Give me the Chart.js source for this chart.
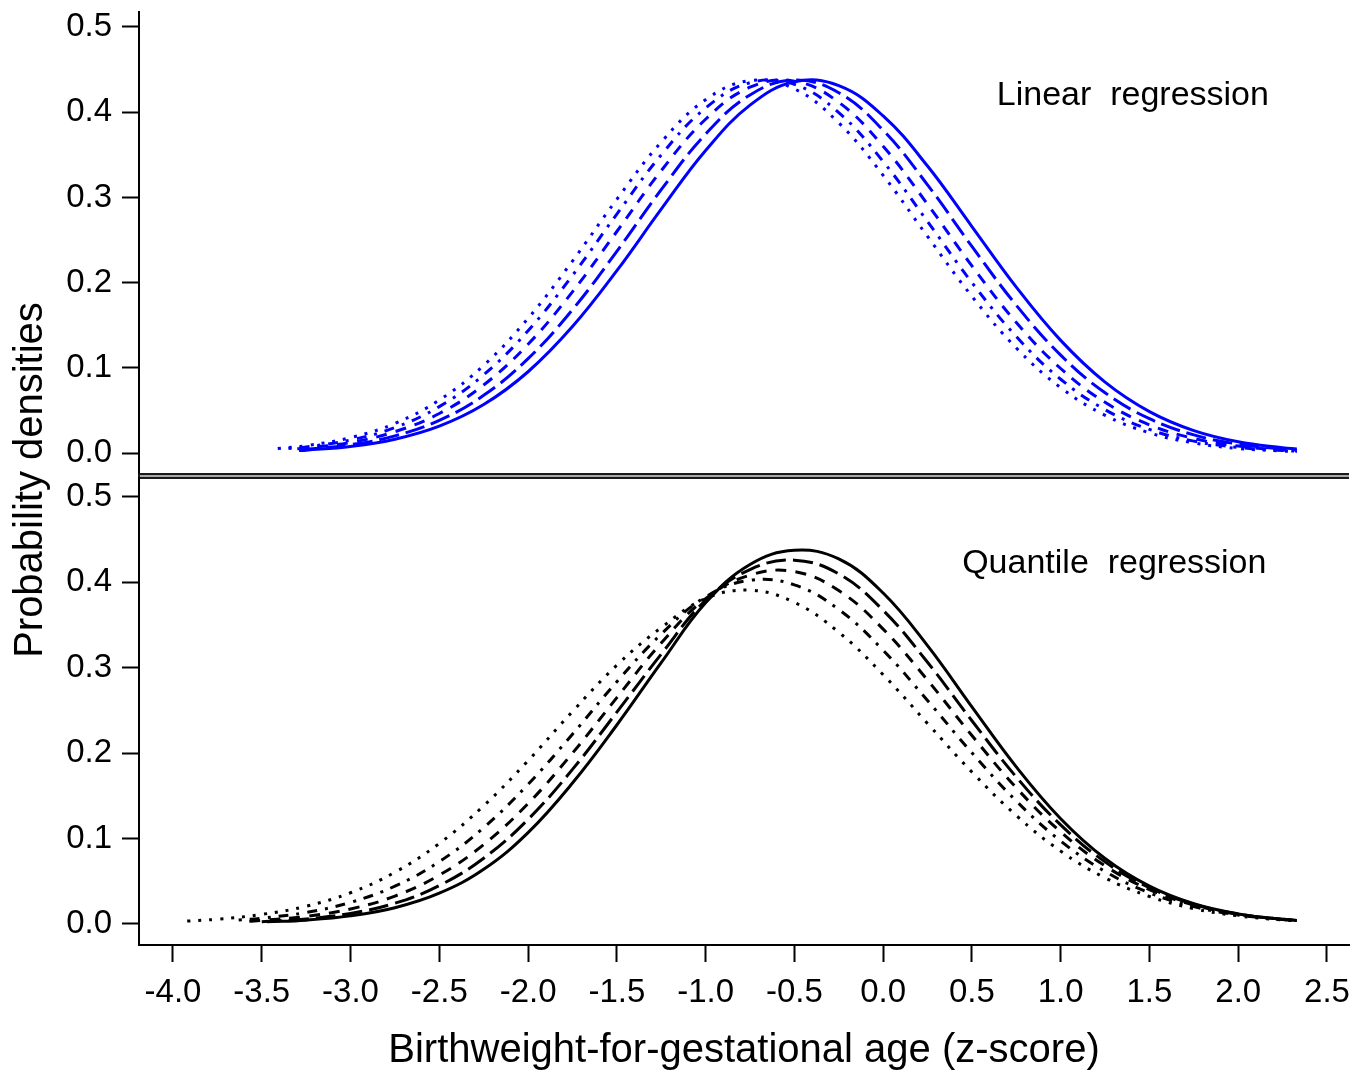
<!DOCTYPE html>
<html>
<head>
<meta charset="utf-8">
<script src="https://cdn.jsdelivr.net/npm/chart.js@4.4.1/dist/chart.umd.min.js"></script>
<style>
  html, body { margin: 0; padding: 0; background: #fff; }
  #wrap { position: relative; width: 1366px; height: 1075px; }
  #wrap canvas { position: absolute; left: 0; top: 0; }
</style>
</head>
<body>
<div id="wrap">
  <canvas id="topChart" width="1366" height="1075"></canvas>
  <canvas id="bottomChart" width="1366" height="1075"></canvas>
</div>
<script>
// z-score grid the densities were read at
var zGridTop = [-3.25, -3.0, -2.75, -2.5, -2.25, -2.0, -1.75, -1.5, -1.25, -1.0, -0.75, -0.5, -0.25,
  0.0, 0.25, 0.5, 0.75, 1.0, 1.25, 1.5, 1.75, 2.0, 2.25, 2.33];
var zGridBottom = [-3.75, -3.5, -3.25, -3.0, -2.75, -2.5, -2.25, -2.0, -1.75, -1.5, -1.25, -1.0, -0.75, -0.5, -0.25,
  0.0, 0.25, 0.5, 0.75, 1.0, 1.25, 1.5, 1.75, 2.0, 2.25, 2.33];

// linear regression (top) - first value is at the curve's start point
var startsTop = [-3.29, -3.29, -3.30, -3.35, -3.41];
var linSolid    = [.0030, .0034, .0077, .0162, .0315, .0569, .0954, .1484, .2140, .2862, .3550, .4083, .4357, .4311, .3956, .3368, .2658, .1947, .1322, .0832, .0486, .0263, .0132, .0062, .0048];
var linLongdash = [.0039, .0044, .0098, .0202, .0384, .0677, .1108, .1682, .2368, .3091, .3743, .4203, .4378, .4229, .3788, .3148, .2425, .1734, .1149, .0707, .0403, .0213, .0105, .0048, .0036];
var linDashed   = [.0049, .0058, .0125, .0250, .0464, .0799, .1277, .1892, .2600, .3314, .3917, .4293, .4365, .4116, .3600, .2920, .2196, .1532, .0992, .0595, .0331, .0171, .0082, .0036, .0028];
var linDotdash  = [.0052, .0072, .0153, .0299, .0545, .0918, .1436, .2084, .2804, .3499, .4049, .4346, .4327, .3995, .3421, .2717, .2001, .1367, .0866, .0509, .0277, .0140, .0066, .0029, .0022];
var linDotted   = [.0052, .0087, .0181, .0348, .0622, .1029, .1581, .2253, .2978, .3649, .4147, .4371, .4274, .3875, .3259, .2542, .1839, .1233, .0767, .0443, .0237, .0118, .0054, .0023, .0017];

// quantile regression (bottom)
var startsBottom = [-3.47, -3.50, -3.57, -3.63, -3.92];
var qrSolid    = [.0025, .0045, .0095, .0190, .0360, .0640, .1070, .1650, .2330, .3060, .3760, .4210, .4375, .4274, .3875, .3259, .2542, .1839, .1233, .0767, .0443, .0237, .0118, .0054, .0042];
var qrLongdash = [.0026, .0059, .0124, .0243, .0450, .0770, .1225, .1810, .2480, .3160, .3790, .4150, .4260, .4099, .3673, .3064, .2380, .1721, .1160, .0727, .0425, .0231, .0117, .0055, .0043];
var qrDashed   = [.0033, .0042, .0089, .0176, .0327, .0572, .0930, .1410, .2000, .2650, .3290, .3810, .4085, .4126, .3904, .3453, .2855, .2207, .1595, .1078, .0681, .0402, .0222, .0114, .0055, .0043];
var qrDotdash  = [.0046, .0068, .0135, .0253, .0443, .0730, .1128, .1635, .2222, .2836, .3394, .3830, .4025, .3971, .3683, .3205, .2617, .2004, .1440, .0971, .0615, .0365, .0203, .0106, .0052, .0041];
var qrDotted   = [.0034, .0056, .0112, .0208, .0366, .0606, .0943, .1384, .1912, .2488, .3030, .3470, .3810, .3908, .3765, .3416, .2919, .2348, .1779, .1270, .0853, .0540, .0322, .0180, .0095, .0047, .0037];

var xTicks = [-4.0, -3.5, -3.0, -2.5, -2.0, -1.5, -1.0, -0.5, 0.0, 0.5, 1.0, 1.5, 2.0, 2.5];
var yTicks = [0.0, 0.1, 0.2, 0.3, 0.4, 0.5];

// solid, long dash, dash, dot-dash, dotted
var dashes = [[], [20, 7], [11, 9], [3, 8, 10, 8], [3, 8]];
var FONT = '"Liberation Sans", Arial, sans-serif';

Chart.defaults.font.family = FONT;
Chart.defaults.color = '#000';

function curve(grid, start, vals) {
  var pts = [{x: start, y: vals[0]}];
  var k = 1;
  grid.forEach(function(z) {
    if (z > start) { pts.push({x: z, y: vals[k]}); k++; }
  });
  return pts;
}

function makeSets(grid, starts, series, color) {
  return series.map(function(vals, i) {
    return {
      label: 'curve ' + (i + 1),
      data: curve(grid, starts[i], vals),
      borderColor: color,
      borderWidth: 3,
      borderDash: dashes[i],
      pointRadius: 0,
      fill: false,
      tension: 0.4
    };
  });
}

function yAxis(min, max) {
  return {
    type: 'linear', min: min, max: max,
    afterBuildTicks: function(s) { s.ticks = yTicks.map(function(v) { return {value: v}; }); },
    afterFit: function(s) { s.width = 139; s.paddingTop = 0; s.paddingBottom = 0; },
    ticks: { padding: 10, font: {size: 33}, color: '#000', callback: function(v) { return v.toFixed(1); } },
    grid: { drawOnChartArea: false, drawTicks: true, tickLength: 17, tickWidth: 2, tickColor: '#000' },
    border: { display: true, color: '#000', width: 2 }
  };
}

var decor = {
  id: 'decor',
  afterDraw: function(chart, args, opts) {
    var ctx = chart.ctx, area = chart.chartArea;
    var xs = chart.scales.x, ys = chart.scales.y;
    ctx.save();
    ctx.fillStyle = '#000';
    ctx.font = '34px ' + FONT;
    ctx.textAlign = 'left';
    ctx.textBaseline = 'middle';
    ctx.fillText(opts.text, xs.getPixelForValue(opts.tx), ys.getPixelForValue(opts.ty));
    if (opts.separator) {
      ctx.fillStyle = '#a8a8a8';
      ctx.fillRect(area.left, area.bottom - 1, area.right - area.left, 6);
      ctx.strokeStyle = '#1a1a1a';
      ctx.lineWidth = 2;
      ctx.beginPath();
      ctx.moveTo(area.left, area.bottom); ctx.lineTo(area.right, area.bottom);
      ctx.moveTo(area.left, area.bottom + 4); ctx.lineTo(area.right, area.bottom + 4);
      ctx.moveTo(area.left, area.bottom); ctx.lineTo(area.left, area.bottom + 4);
      ctx.stroke();
    }
    if (opts.yTitle) {
      ctx.fillStyle = '#000';
      ctx.font = '40px ' + FONT;
      ctx.textAlign = 'center';
      ctx.translate(31, 480);
      ctx.rotate(-Math.PI / 2);
      ctx.fillText(opts.yTitle, 0, 0);
    }
    ctx.restore();
  }
};

new Chart(document.getElementById('topChart'), {
  type: 'line',
  data: { datasets: makeSets(zGridTop, startsTop, [linSolid, linLongdash, linDashed, linDotdash, linDotted], '#0000ff') },
  options: {
    responsive: false, animation: false,
    layout: { padding: { top: 12, right: 17, bottom: 601, left: 0 } },
    scales: {
      x: { type: 'linear', min: -4.1915, max: 2.624, display: false },
      y: yAxis(-0.0246, 0.5176)
    },
    plugins: {
      legend: { display: false }, tooltip: { enabled: false },
      decor: { text: 'Linear  regression', tx: 0.64, ty: 0.42, separator: true }
    }
  },
  plugins: [decor]
});

new Chart(document.getElementById('bottomChart'), {
  type: 'line',
  data: { datasets: makeSets(zGridBottom, startsBottom, [qrSolid, qrLongdash, qrDashed, qrDotdash, qrDotted], '#000000') },
  options: {
    responsive: false, animation: false,
    layout: { padding: { top: 478, right: 17, bottom: 0, left: 0 } },
    scales: {
      x: {
        type: 'linear', min: -4.1915, max: 2.624,
        afterBuildTicks: function(s) { s.ticks = xTicks.map(function(v) { return {value: v}; }); },
        afterFit: function(s) { s.height = 130; s.paddingLeft = 0; s.paddingRight = 0; },
        ticks: { padding: 11, font: {size: 33}, color: '#000', maxRotation: 0, autoSkip: false,
          callback: function(v) { return v.toFixed(1); } },
        grid: { drawOnChartArea: false, drawTicks: true, tickLength: 17, tickWidth: 2, tickColor: '#000' },
        border: { display: true, color: '#000', width: 2 },
        title: { display: true, text: 'Birthweight-for-gestational age (z-score)', font: {size: 40},
          color: '#000', padding: {top: 0, bottom: 0} }
      },
      y: yAxis(-0.0246, 0.5222)
    },
    plugins: {
      legend: { display: false }, tooltip: { enabled: false },
      decor: { text: 'Quantile  regression', tx: 0.445, ty: 0.422, yTitle: 'Probability densities' }
    }
  },
  plugins: [decor]
});
</script>
</body>
</html>
